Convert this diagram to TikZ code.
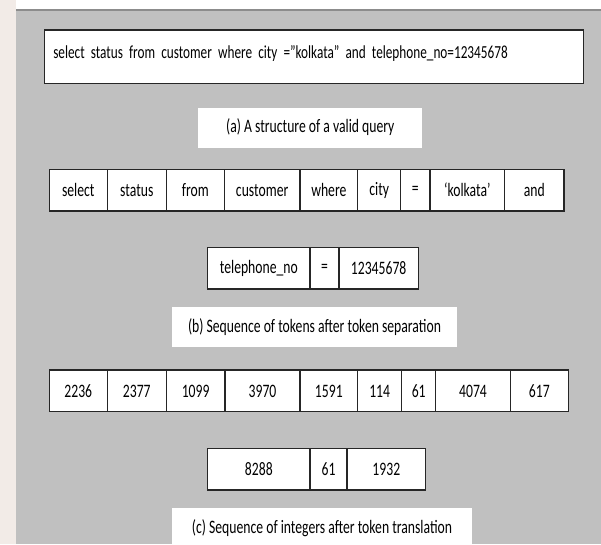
\documentclass[tikz,border=0pt]{standalone}
\usepackage{fontspec}
\setmainfont{Carlito}[FakeStretch=0.72]
\usetikzlibrary{positioning}
\definecolor{panelgray}{HTML}{C0C0C0}
\definecolor{edgepink}{HTML}{F2EBE7}
\definecolor{shadegray}{HTML}{8C8C8C}

\begin{document}
\begin{tikzpicture}[
        x=1pt, y=-1pt,
        node distance=0pt,
        font=\fontsize{19}{22}\selectfont,
        cell/.style={rectangle, draw=black!85, fill=white, line width=1.2pt, minimum height=41.7pt, inner sep=0pt, outer sep=0pt, text centered},
        caption/.style={rectangle, fill=white, minimum height=40pt, inner sep=0pt}
    ]
        \useasboundingbox (0,0) rectangle (601,544);
        \clip (0,0) rectangle (601,544);
        % Background
        \fill[white] (0,0) rectangle (601,544);
        \fill[edgepink] (0,0) rectangle (16,544);
        \fill[panelgray] (16,10) rectangle (601,544);
        \draw[shadegray, line width=2pt] (16,10) -- (601,10);

        % Query
        \node (query) [cell, anchor=north west, font=\fontsize{18.4}{22}\selectfont, text width=521pt, align=left, inner xsep=9pt, inner ysep=0pt, text height=28.3pt, text depth=25pt] at (44.3,30) {select status from customer where city =”kolkata” and telephone\_no=12345678};
        \node (capa) [caption, minimum width=224pt] at (310.3,127.5) {(a) A structure of a valid query};

        % Tokens
        \node (select) [cell, minimum width=58pt, anchor=west] at (49.3,190.2) {select};
        \node (status) [cell, minimum width=59pt, right=of select] {status};
        \node (from) [cell, minimum width=58pt, right=of status] {from};
        \node (customer) [cell, minimum width=75.7pt, right=of from] {customer};
        \node (where) [cell, minimum width=57.7pt, right=of customer] {where};
        \node (city) [cell, minimum width=43pt, right=of where] {city};
        \node (equal) [cell, minimum width=29.3pt, right=of city] {=};
        \node (kolkata) [cell, minimum width=74.7pt, right=of equal] {‘kolkata’};
        \node (and) [cell, minimum width=59.3pt, right=of kolkata] {and};

        \node (phone) [cell, minimum width=102.3pt, anchor=west] at (207.7,268.2) {telephone\_no};
        \node (phoneeq) [cell, minimum width=29pt, right=of phone] {=};
        \node (number) [cell, minimum width=79.3pt, right=of phoneeq] {12345678};
        \node (capb) [caption, minimum width=284.4pt] at (314.5,326.7) {(b) Sequence of tokens after token separation};

        % Integers
        \node (iselect) [cell, minimum width=58pt, anchor=west] at (49.3,390.9) {2236};
        \node (istatus) [cell, minimum width=59pt, right=of iselect] {2377};
        \node (ifrom) [cell, minimum width=58.7pt, right=of istatus] {1099};
        \node (icustomer) [cell, minimum width=75pt, right=of ifrom] {3970};
        \node (iwhere) [cell, minimum width=57.7pt, right=of icustomer] {1591};
        \node (icity) [cell, minimum width=44pt, right=of iwhere] {114};
        \node (iequal) [cell, minimum width=34pt, right=of icity] {61};
        \node (ikolkata) [cell, minimum width=74.6pt, right=of iequal] {4074};
        \node (iand) [cell, minimum width=58pt, right=of ikolkata] {617};

        \node (iphone) [cell, minimum width=102.3pt, anchor=west] at (207.7,469.2) {8288};
        \node (iphoneeq) [cell, minimum width=37pt, right=of iphone] {61};
        \node (inumber) [cell, minimum width=78.7pt, right=of iphoneeq] {1932};
        \node (capc) [caption, minimum width=299.4pt] at (322,527.7) {(c) Sequence of integers after token translation};
    \end{tikzpicture}
\end{document}
